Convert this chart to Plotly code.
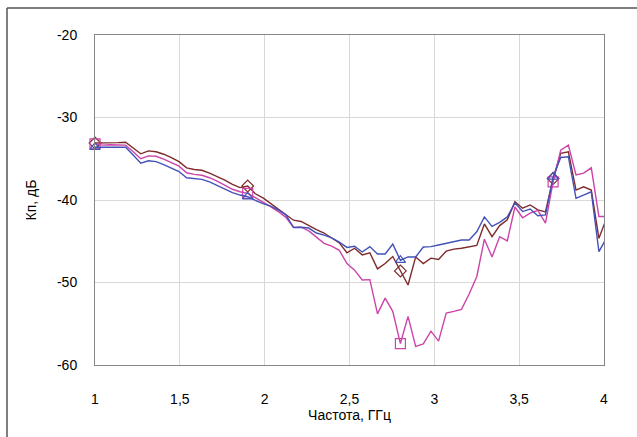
import plotly.graph_objects as go

# Frequency grid, GHz (step 0.045 GHz; last point lies just beyond the axis end)
freq = [round(1 + 0.045 * i, 3) for i in range(68)]

brown = [-33.1, -33.1, -33.1, -33.05, -33.0, -33.7, -34.4, -34.05, -34.15, -34.45,
         -34.85, -35.35, -36.1, -36.3, -36.4, -36.75, -37.15, -37.6, -38.1, -38.5,
         -38.3, -39.25, -39.75, -40.4, -41.1, -41.8, -42.45, -42.6, -43.15, -43.6,
         -44.0, -44.55, -45.2, -46.4, -45.85, -46.65, -46.4, -48.35, -47.7, -46.85,
         -48.6, -50.3, -46.9, -47.7, -47.05, -47.2, -46.2, -45.95, -45.85, -45.7,
         -45.5, -42.9, -44.45, -43.1, -42.4, -40.2, -41.0, -40.6, -41.2, -41.45,
         -37.4, -34.35, -34.15, -38.8, -38.4, -38.8, -44.65, -42.2]

magenta = [-33.2, -33.35, -33.3, -33.3, -33.35, -34.15, -35.0, -34.65, -34.7, -35.05,
           -35.45, -35.9, -36.7, -36.9, -37.0, -37.3, -37.7, -38.2, -38.7, -39.0,
           -39.2, -39.7, -40.2, -40.8, -41.4, -42.1, -43.3, -43.3, -43.75, -44.45,
           -45.25, -45.6, -46.1, -47.7, -48.5, -49.7, -49.65, -53.8, -51.9, -53.5,
           -57.4, -54.1, -57.75, -57.45, -55.9, -57.1, -53.7, -53.5, -53.25, -51.4,
           -49.3, -44.75, -46.9, -44.45, -44.95, -40.85, -42.15, -41.6, -41.25, -42.8,
           -37.8, -33.95, -33.35, -36.95, -36.75, -36.1, -42.0, -42.0]

blue = [-33.6, -33.6, -33.6, -33.6, -33.6, -34.55, -35.55, -35.25, -35.35, -35.7,
        -36.1, -36.55, -37.3, -37.4, -37.5, -37.8, -38.2, -38.6, -39.1, -39.4,
        -39.6, -40.05, -40.45, -40.75, -41.2, -41.8, -43.35, -43.3, -43.4, -44.0,
        -44.25, -44.6, -45.1, -45.75, -45.6, -46.3, -45.65, -46.55, -46.55, -45.35,
        -47.3, -46.9, -46.9, -45.7, -45.65, -45.45, -45.25, -45.1, -44.85, -44.85,
        -43.85, -42.05, -43.2, -42.7, -42.05, -40.35, -41.4, -41.1, -41.9, -41.8,
        -37.2, -34.85, -34.75, -39.8, -39.4, -39.0, -46.25, -44.6]

# markers every 20th point
marker_idx = [0, 20, 40, 60]

x_tickvals = [1, 1.5, 2, 2.5, 3, 3.5, 4]
x_ticktext = ["1", "1,5", "2", "2,5", "3", "3,5", "4"]
y_tickvals = [-60, -50, -40, -30, -20]
y_ticktext = ["-60", "-50", "-40", "-30", "-20"]

series = [
    ("brown", brown, "#7E2B2B", "diamond-open", 9),
    ("magenta", magenta, "#CC44AA", "square-open", 10),
    ("blue", blue, "#4252B8", "triangle-up-open", 9),
]

fig = go.Figure()
for name, vals, col, sym, ms in series:
    fig.add_trace(go.Scatter(x=freq, y=vals, mode="lines", name=name,
                             line=dict(color=col, width=1.4), showlegend=False,
                             cliponaxis=True))
    fig.add_trace(go.Scatter(x=[freq[i] for i in marker_idx],
                             y=[vals[i] for i in marker_idx],
                             mode="markers", showlegend=False,
                             marker=dict(symbol=sym, size=ms, color=col,
                                         line=dict(color=col, width=1.2)),
                             cliponaxis=False))

font = "Liberation Sans, Arial, sans-serif"
fig.update_layout(
    width=637, height=437,
    margin=dict(l=95, r=33, t=35, b=72),
    paper_bgcolor="white", plot_bgcolor="white",
    separators=", ",
    font=dict(family=font, size=14, color="#000000"),
    xaxis=dict(range=[1, 4], tickvals=x_tickvals, ticktext=x_ticktext,
               showgrid=True, gridcolor="#D9D9D9", gridwidth=1,
               zeroline=False, showline=True, linecolor="#868686", linewidth=1,
               mirror=True, ticks="outside", ticklen=21,
               tickcolor="rgba(0,0,0,0)",
               title=dict(text="Частота, ГГц", standoff=0,
                          font=dict(size=14))),
    yaxis=dict(range=[-60, -20], tickvals=y_tickvals, ticktext=y_ticktext,
               showgrid=True, gridcolor="#D9D9D9", gridwidth=1,
               zeroline=False, showline=True, linecolor="#868686", linewidth=1,
               mirror=True, ticks="outside", ticklen=14,
               tickcolor="rgba(0,0,0,0)",
               title=dict(text="Кп, дБ", standoff=17, font=dict(size=14))),
    shapes=[
        dict(type="line", xref="paper", yref="paper", x0=-88/509, x1=1.1,
             y0=1 + 27/330, y1=1 + 27/330, line=dict(color="#555555", width=1.5)),
        dict(type="line", xref="paper", yref="paper", x0=-88/509, x1=-88/509,
             y0=1 + 27/330, y1=-0.3, line=dict(color="#555555", width=1.5)),
    ],
)

fig.write_html("out.html")
